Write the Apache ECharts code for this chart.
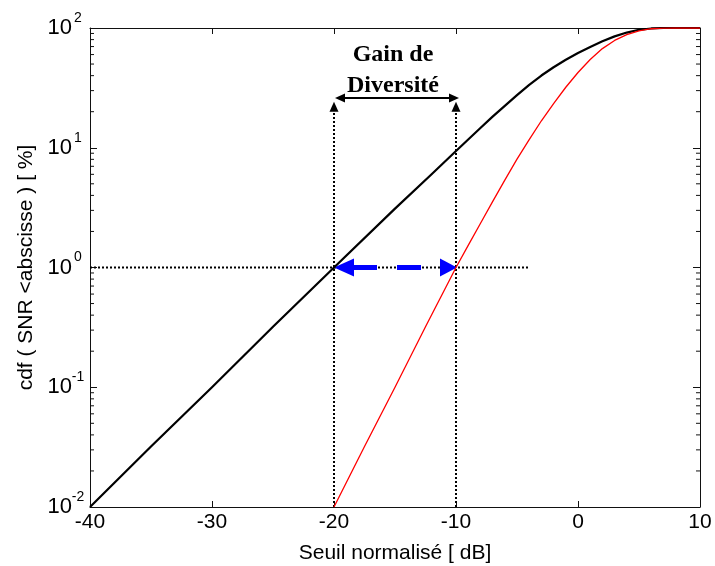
<!DOCTYPE html>
<html><head><meta charset="utf-8">
<script src="https://cdn.jsdelivr.net/npm/echarts@6/dist/echarts.min.js"></script>
<style>html,body{margin:0;padding:0;background:#fff}#c{width:715px;height:566px}</style>
</head><body><div id="c"></div>
<script>
// ---- data ----
const xTicks = [-40, -30, -20, -10, 0, 10];           // dB
const yDecades = [0.01, 0.1, 1, 10, 100];             // %
// Without diversity (black)
const blackX = [-40, -35, -30, -25, -20, -15, -12, -10, -8, -7, -6, -5, -4, -3, -2, -1, 0, 1, 2, 3, 4, 5, 6, 7, 10];
const blackY = [0.01, 0.032, 0.1, 0.32, 1.0, 3.1, 6.0, 9.4, 14.6, 18.2, 22.4, 27.5, 33.5, 40.1, 47.0, 54.3, 61.9, 69.5, 77.4, 85.1, 91.6, 96.6, 99.1, 100, 100];
// With diversity (red)
const redX = [-20, -17.5, -15, -12.5, -10, -9, -8, -7, -6, -5, -4, -3, -2, -1, 0, 1, 2, 3, 4, 5, 6, 7, 8, 10];
const redY = [0.01, 0.032, 0.1, 0.32, 1.0, 1.53, 2.33, 3.55, 5.37, 8.04, 11.7, 16.8, 23.4, 32.0, 42.5, 54.6, 67.3, 78.7, 88.1, 94.8, 98.6, 99.8, 100, 100];
// Annotation (data coordinates)
const gainFrom = -20, gainTo = -10;   // dB where each curve crosses 1 %
const refLevel = 1;                   // % reference level
const refLineEnd = -4;                // dB end of horizontal dotted line
const vertTop = 20;                   // % top of vertical dotted lines
const arrowLevel = 26;                // % level of the black double arrow
const annotText = ['Gain de', 'Diversité'];

const minorTicks = [];
for (let k = -2; k < 2; k++) for (let m = 2; m <= 9; m++) minorTicks.push(+(m * Math.pow(10, k)).toPrecision(3));

const zip = (a, b) => a.map((v, i) => [v, b[i]]);
const chart = echarts.init(document.getElementById('c'));

function tri(tip, dir, len, half) {
  const bx = tip[0] - dir[0] * len, by = tip[1] - dir[1] * len;
  const px = -dir[1] * half, py = dir[0] * half;
  return [[tip[0], tip[1]], [bx + px, by + py], [bx - px, by - py]];
}

const axisFont = 'Liberation Sans';
const lineCol = '#111';

chart.setOption({
  animation: false,
  backgroundColor: '#fff',
  grid: { left: 90, right: 15, top: 28, bottom: 59, outerBoundsMode: 'none', containLabel: false },
  xAxis: [{
    type: 'value', min: xTicks[0], max: xTicks[xTicks.length - 1], interval: 10, position: 'bottom',
    axisLine: { show: true, onZero: false, lineStyle: { color: lineCol, width: 1 } },
    axisTick: { show: true, inside: true, length: 6, lineStyle: { color: lineCol } },
    splitLine: { show: false },
    axisLabel: { fontSize: 21, color: '#000', margin: 5, fontFamily: axisFont },
    name: 'Seuil normalisé [ dB]', nameLocation: 'middle', nameGap: 36,
    nameTextStyle: { fontSize: 21, color: '#000', fontFamily: axisFont }
  }, {
    type: 'value', min: xTicks[0], max: xTicks[xTicks.length - 1], interval: 10, position: 'top',
    axisLine: { show: true, onZero: false, lineStyle: { color: lineCol, width: 1 } },
    axisTick: { show: true, inside: true, length: 6, lineStyle: { color: lineCol } },
    splitLine: { show: false }, axisLabel: { show: false }
  }],
  yAxis: [{
    type: 'log', logBase: 10, min: yDecades[0], max: yDecades[yDecades.length - 1], position: 'left',
    axisLine: { show: true, onZero: false, lineStyle: { color: lineCol, width: 1 } },
    axisTick: { show: true, inside: true, length: 7, lineStyle: { color: lineCol } },
    splitLine: { show: false },
    axisLabel: {
      margin: 6,
      formatter: v => '{b|10}{e|' + Math.round(Math.log10(v)) + '}',
      rich: {
        b: { fontSize: 22, fontFamily: axisFont, color: '#000', lineHeight: 34, verticalAlign: 'middle' },
        e: { fontSize: 14, fontFamily: axisFont, color: '#000', lineHeight: 14, verticalAlign: 'top', width: 12, align: 'left' }
      }
    },
    name: 'cdf ( SNR <abscisse ) [ %]', nameLocation: 'middle', nameGap: 51, nameRotate: 90,
    nameTextStyle: { fontSize: 21, color: '#000', fontFamily: axisFont }
  }, {
    type: 'log', logBase: 10, min: yDecades[0], max: yDecades[yDecades.length - 1], position: 'right',
    axisLine: { show: true, onZero: false, lineStyle: { color: lineCol, width: 1 } },
    axisTick: { show: true, inside: true, length: 7, lineStyle: { color: lineCol } },
    splitLine: { show: false }, axisLabel: { show: false }
  }],
  series: [
    {
      type: 'custom', silent: true, clip: false, z: 1,
      data: minorTicks.map(v => [xTicks[0], v]),
      renderItem: (params, api) => {
        const l = api.coord([xTicks[0], api.value(1)]);
        const r = api.coord([xTicks[xTicks.length - 1], api.value(1)]);
        const st = { stroke: lineCol, lineWidth: 1 };
        return { type: 'group', children: [
          { type: 'line', shape: { x1: l[0], y1: l[1], x2: l[0] + 4, y2: l[1] }, style: st },
          { type: 'line', shape: { x1: r[0], y1: r[1], x2: r[0] - 4, y2: r[1] }, style: st }
        ]};
      }
    },
    {
      type: 'custom', silent: true, clip: false, z: 3,
      data: [[gainFrom, refLevel]],
      renderItem: (params, api) => {
        const ch = [];
        const dot = { stroke: '#000', lineWidth: 2, lineDash: [2, 2], fill: null };
        const a = api.coord([xTicks[0], refLevel]), b = api.coord([refLineEnd, refLevel]);
        ch.push({ type: 'line', shape: { x1: a[0], y1: a[1], x2: b[0], y2: b[1] }, style: dot });
        [gainFrom, gainTo].forEach(x => {
          const p0 = api.coord([x, yDecades[0]]), p1 = api.coord([x, vertTop]);
          ch.push({ type: 'line', shape: { x1: p0[0], y1: p0[1], x2: p1[0], y2: p1[1] }, style: dot });
          ch.push({ type: 'polygon', shape: { points: tri([p1[0], p1[1] - 10], [0, -1], 10, 4.5) }, style: { fill: '#000' } });
        });
        const h0 = api.coord([gainFrom, arrowLevel]), h1 = api.coord([gainTo, arrowLevel]);
        ch.push({ type: 'line', shape: { x1: h0[0] + 6, y1: h0[1], x2: h1[0] - 4, y2: h1[1] }, style: { stroke: '#000', lineWidth: 2 } });
        ch.push({ type: 'polygon', shape: { points: tri([h0[0] + 1, h0[1]], [-1, 0], 10, 4.5) }, style: { fill: '#000' } });
        ch.push({ type: 'polygon', shape: { points: tri([h1[0] + 3, h1[1]], [1, 0], 10, 4.5) }, style: { fill: '#000' } });
        const cx = (h0[0] + h1[0]) / 2 - 2;
        ch.push({ type: 'text', style: { text: annotText[0], x: cx, y: h0[1] - 43, align: 'center', verticalAlign: 'middle', font: 'bold 24px "Liberation Serif"', fill: '#000' } });
        ch.push({ type: 'text', style: { text: annotText[1], x: cx, y: h0[1] - 12, align: 'center', verticalAlign: 'middle', font: 'bold 24px "Liberation Serif"', fill: '#000' } });
        const b0 = api.coord([gainFrom, refLevel]), b1 = api.coord([gainTo, refLevel]);
        const lt = [b0[0], b0[1]], rt = [b1[0] + 1, b1[1]];
        ch.push({ type: 'line', shape: { x1: lt[0] + 19, y1: lt[1], x2: rt[0] - 17, y2: rt[1] }, style: { stroke: '#0000ff', lineWidth: 5, lineDash: [24, 20] } });
        ch.push({ type: 'polygon', shape: { points: tri(lt, [-1, 0], 20, 9) }, style: { fill: '#0000ff' } });
        ch.push({ type: 'polygon', shape: { points: tri(rt, [1, 0], 17, 9) }, style: { fill: '#0000ff' } });
        return { type: 'group', children: ch };
      }
    },
    { type: 'line', name: 'sans diversité', data: zip(blackX, blackY), showSymbol: false, symbol: 'none', z: 4,
      lineStyle: { color: '#000', width: 2.2, join: 'round' } },
    { type: 'line', name: 'avec diversité', data: zip(redX, redY), showSymbol: false, symbol: 'none', z: 4,
      lineStyle: { color: '#ff0000', width: 1.3, join: 'round' } }
  ]
});
</script></body></html>
